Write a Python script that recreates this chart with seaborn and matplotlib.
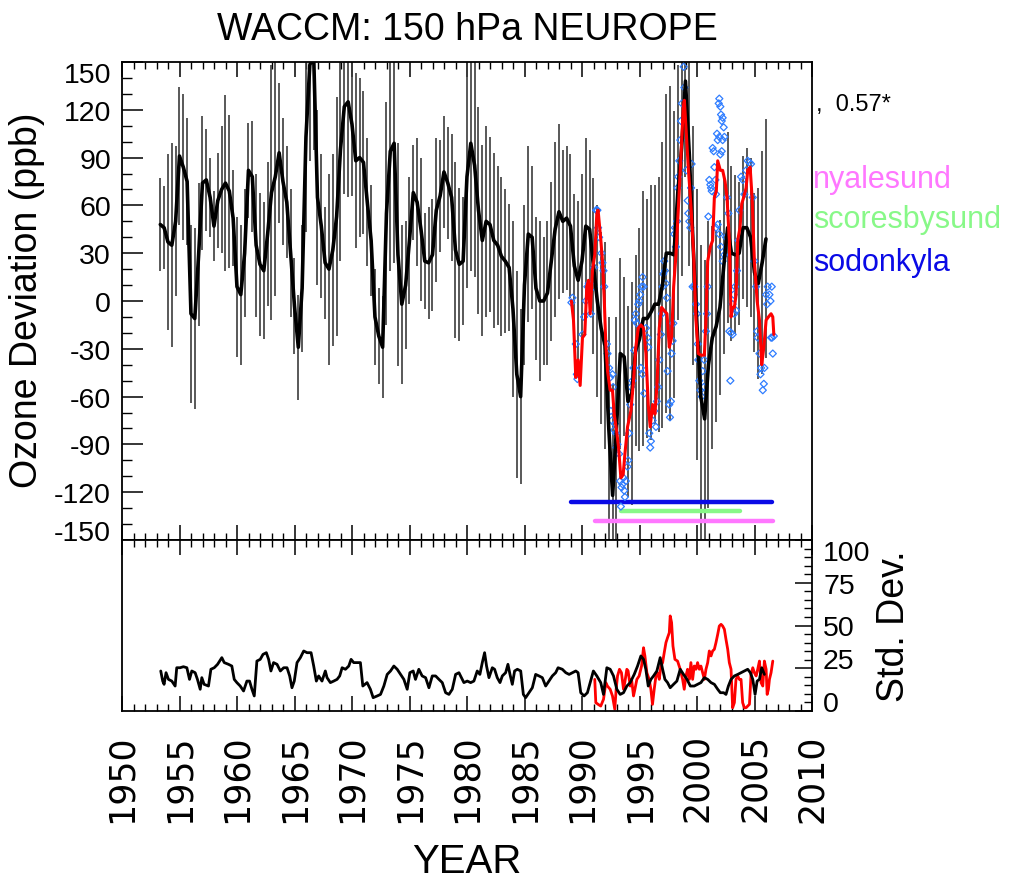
import numpy as np
import pandas as pd
import matplotlib
matplotlib.use("Agg")
import matplotlib.pyplot as plt
import seaborn as sns
from matplotlib.ticker import MultipleLocator
from matplotlib import font_manager as fm

# ---------------- data ----------------
# WACCM model ozone deviation (ppb), 4-monthly samples starting 1953.33
model_start = 1953.33
model_step = 1.0 / 3.0
model_vals = [
    48, 46, 37, 35, 50, 91, 84, 75, -8, -11,
    29, 74, 76, 65, 47, 63, 70, 74, 69, 52,
    9, 4, 30, 82, 78, 35, 23, 19, 42, 68,
    78, 93, 75, 62, 30, -3, -29, 8, 103, 148,
    155, 65, 47, 24, 20, 32, 53, 95, 122, 125,
    111, 88, 90, 87, 62, 38, -10, -22, -29, 55,
    94, 99, 29, -2, 10, 38, 68, 62, 45, 25,
    24, 29, 57, 66, 81, 74, 65, 32, 23, 25,
    78, 99, 85, 57, 38, 50, 48, 38, 35, 28,
    25, 21, -5, -46, -60, 10, 42, 40, 8, 0,
    0, 5, 25, 45, 56, 50, 52, 47, 22, 13,
    25, 47, 45, 22, 0, -17, -28, -80, -122, -80,
    -33, -35, -63, -58, -31, -24, -11, -11, -7, -2,
    -2, 10, 30, 30, 29, 68, 96, 138, 92, 35,
    -15, -60, -74, -40, -23, -16, -4, 22, 46, 30,
    29, 30, 46, 46, 40, 18, 11, 24, 39,
]
# half length of the model spread bars (ppb)
model_err = [
    29, 26, 55, 64, 47, 43, 46, 40, 56, 57,
    45, 42, 32, 25, 22, 30, 40, 55, 48, 30,
    44, 44, 40, 30, 35, 45, 45, 43, 45, 80,
    75, 44, 40, 35, 40, 30, 33, 40, 60, 60,
    60, 55, 45, 35, 60, 60, 75, 70, 55, 60,
    45, 55, 50, 45, 40, 35, 30, 30, 32, 70,
    75, 75, 70, 50, 40, 40, 30, 40, 45, 30,
    35, 35, 45, 35, 35, 35, 40, 55, 48, 40,
    70, 80, 70, 65, 60, 60, 55, 55, 50, 50,
    45, 40, 55, 65, 55, 50, 55, 45, 45, 50,
    40, 45, 50, 55, 55, 45, 45, 45, 45, 50,
    55, 55, 50, 55, 60, 60, 65, 70, 70, 70,
    60, 50, 60, 70, 60, 70, 80, 75, 80, 75,
    80, 90, 100, 105, 90, 80, 80, 60, 70, 75,
    85, 95, 100, 90, 70, 60, 55, 55, 60, 55,
    50, 45, 45, 50, 50, 50, 60, 70, 75,
]

# observed (sonde) smoothed deviation
obs_years = [1989.08, 1989.26, 1989.46, 1989.66, 1989.84, 1990.04, 1990.24, 1990.42, 1990.56, 1990.71,
             1990.91, 1991.11, 1991.29, 1991.40, 1991.64, 1991.78, 1991.93, 1992.07, 1992.22, 1992.45,
             1992.65, 1992.80, 1993.00, 1993.18, 1993.38, 1993.58, 1993.73, 1993.96, 1994.25, 1994.48,
             1994.68, 1994.89, 1995.12, 1995.35, 1995.56, 1995.76, 1995.93, 1996.14, 1996.34, 1996.51,
             1996.72, 1996.92, 1997.15, 1997.39, 1997.59, 1997.79, 1997.97, 1998.17, 1998.37, 1998.60,
             1998.81, 1998.90, 1999.04, 1999.24, 1999.48, 1999.71, 1999.91, 2000.11, 2000.35, 2000.64,
             2000.78, 2000.93, 2001.16, 2001.36, 2001.51, 2001.68, 2001.80, 2002.03, 2002.23, 2002.44,
             2002.61, 2002.81, 2002.96, 2003.10, 2003.25, 2003.40, 2003.54, 2003.74, 2003.89, 2004.06,
             2004.27, 2004.41, 2004.62, 2004.79, 2004.99, 2005.23, 2005.43, 2005.63, 2005.81, 2006.01,
             2006.21, 2006.44, 2006.59, 2006.68]
obs_vals = [0, -12, -48, -37, -53, -23, -21, 9, 13, -8,
            19, 29, 55, 57, 38, 25, 2, -27, -44, -56,
            -56, -71, -81, -92, -111, -109, -96, -79, -69, -50,
            -29, -17, -15, -17, -33, -65, -79, -65, -71, -54,
            -17, -4, -6, -8, -29, -23, 9, 29, 57, 90,
            122, 126, 109, 84, 59, 29, -12, -33, -34, -34,
            -12, 25, 34, 38, 65, 69, 88, 82, 82, 75,
            65, 38, -10, -4, -4, 4, 38, 46, 61, 65,
            71, 82, 84, 65, 25, 0, -12, -40, -29, -12,
            -10, -8, -10, -21]

# individual sonde profiles
sonde_years = [1989.08, 1989.17, 1989.46, 1989.60, 1989.55, 1990.04, 1990.18, 1990.33, 1990.47, 1990.59,
               1990.77, 1991.00, 1991.06, 1991.23, 1991.29, 1991.34, 1991.40, 1991.49, 1991.69, 1991.78,
               1991.87, 1991.93, 1992.16, 1992.22, 1992.36, 1992.45, 1992.51, 1992.59, 1992.65, 1992.71,
               1992.80, 1992.86, 1992.94, 1993.00, 1993.09, 1993.23, 1993.32, 1993.44, 1993.52, 1993.61,
               1993.67, 1993.73, 1993.81, 1993.38, 1993.96, 1994.02, 1994.10, 1994.19, 1994.25, 1994.39,
               1994.48, 1994.54, 1994.60, 1994.68, 1994.77, 1994.89, 1994.98, 1995.06, 1995.18, 1995.27,
               1995.35, 1995.41, 1995.27, 1995.12, 1995.56, 1995.70, 1995.76, 1995.85, 1995.93, 1995.99,
               1996.14, 1996.28, 1996.43, 1996.51, 1996.63, 1996.72, 1996.86, 1996.95, 1997.01, 1997.07,
               1997.15, 1997.21, 1997.30, 1997.39, 1997.44, 1997.59, 1997.65, 1997.73, 1997.79, 1997.88,
               1997.94, 1998.02, 1998.08, 1998.17, 1998.26, 1998.31, 1998.37, 1998.46, 1998.55, 1998.60,
               1998.69, 1998.84, 1998.90, 1998.98, 1999.07, 1999.19, 1999.24, 1999.33, 1999.42, 1999.48,
               1999.53, 1999.62, 1999.77, 1999.91, 2000.00, 2000.06, 2000.11, 2000.20, 2000.29, 2000.41,
               2000.49, 2000.58, 2000.64, 2000.78, 2000.87, 2000.93, 2000.99, 2001.07, 2001.16, 2001.22,
               2001.28, 2001.36, 2001.45, 2001.51, 2001.60, 2001.65, 2001.74, 2001.80, 2001.89, 2001.94,
               2002.03, 2002.09, 2002.15, 2002.23, 2002.32, 2002.38, 2002.23, 2002.15, 2002.03, 2001.94,
               2001.65, 2001.80, 2001.94, 2002.09, 2002.23, 2002.38, 2002.52, 2002.61, 2002.73, 2002.81,
               2002.96, 2003.10, 2003.25, 2003.40, 2002.90, 2003.10, 2003.19, 2003.31, 2003.48, 2003.60,
               2003.69, 2003.83, 2003.98, 2004.12, 2004.27, 2004.41, 2004.56, 2004.70, 2004.85, 2004.99,
               2005.14, 2005.23, 2005.28, 2005.43, 2005.52, 2005.57, 2005.72, 2005.81, 2005.86, 2006.01,
               2006.10, 2006.15, 2006.30, 2006.39, 2006.50, 2006.44, 2006.53, 2006.59, 2006.68]
sonde_vals = [-1, 2, -27, -49, -46, -21, -10, 0, 9, 11,
              -8, 9, 21, 57, 57, 57, 46, 40, 30, 24,
              19, 9, -27, -33, -42, -48, -69, -75, -46, -54,
              -81, -77, -83, -92, -90, -96, -113, -117, -115, -111,
              -119, -123, -113, -129, -104, -100, -83, -65, -54, -50,
              -42, -31, -12, -8, -14, -2, 0, 4, 9, 15,
              9, -58, -46, -42, -17, -23, -29, -83, -92, -88,
              -75, -69, -79, -63, -54, -37, -21, -8, 9, 17,
              25, 19, 11, 2, -44, -65, -73, -63, -33, -25,
              -14, 42, 46, 34, 50, 71, 78, 88, 101, 113,
              124, 147, 134, 113, 82, 63, 55, 50, 46, 71,
              86, 9, 9, -2, -8, -27, -37, -50, -56, -60,
              -44, -54, -37, -19, -8, 9, 53, 76, 73, 71,
              69, 96, 94, 84, 76, 67, 105, 101, 124, 127,
              122, 117, 113, 115, 109, 103, 101, 94, 92, 103,
              46, 48, 42, 34, 25, 29, 40, 65, 55, -19,
              -20, -21, -8, -6, -50, -2, 4, 9, 19, 38,
              57, 78, 76, 67, 82, 88, 87, 86, 65, 25,
              9, -19, -23, -33, -46, -42, -56, -52, -42, 4,
              -2, 9, 4, 0, 9, -23, -23, -33, -22]

# station record periods (years)
stations = ["nyalesund", "scoresbysund", "sodonkyla"]
station_start = [1991.1, 1993.4, 1989.0]
station_end = [2006.6, 2003.7, 2006.5]

# running standard deviation (ppb)
model_sd_years = [1953.37, 1953.54, 1953.66, 1953.83, 1954.04, 1954.33, 1954.62, 1954.76, 1955.05, 1955.34,
                  1955.64, 1955.87, 1956.07, 1956.36, 1956.56, 1956.80, 1956.94, 1957.14, 1957.52, 1957.73,
                  1958.02, 1958.31, 1958.68, 1958.89, 1959.26, 1959.55, 1959.76, 1959.99, 1960.28, 1960.57,
                  1960.86, 1961.09, 1961.30, 1961.50, 1961.73, 1962.02, 1962.26, 1962.55, 1962.75, 1962.95,
                  1963.18, 1963.48, 1963.77, 1964.06, 1964.35, 1964.58, 1964.78, 1964.98, 1965.22, 1965.51,
                  1965.80, 1966.09, 1966.44, 1966.67, 1966.90, 1967.10, 1967.39, 1967.68, 1967.83, 1968.12,
                  1968.41, 1968.70, 1968.93, 1969.14, 1969.43, 1969.72, 1969.92, 1970.15, 1970.44, 1970.73,
                  1970.94, 1971.31, 1971.60, 1971.84, 1972.19, 1972.48, 1972.77, 1973.06, 1973.35, 1973.64,
                  1973.93, 1974.22, 1974.51, 1974.80, 1975.03, 1975.32, 1975.52, 1975.81, 1976.10, 1976.40,
                  1976.69, 1976.98, 1977.27, 1977.56, 1977.85, 1978.14, 1978.43, 1978.72, 1979.01, 1979.30,
                  1979.59, 1979.73, 1980.02, 1980.32, 1980.60, 1980.89, 1981.12, 1981.33, 1981.53, 1981.70,
                  1981.91, 1982.20, 1982.40, 1982.63, 1982.87, 1983.07, 1983.36, 1983.56, 1983.74, 1983.94,
                  1984.14, 1984.38, 1984.67, 1984.90, 1985.10, 1985.39, 1985.68, 1985.97, 1986.26, 1986.55,
                  1986.84, 1987.13, 1987.42, 1987.71, 1987.92, 1988.29, 1988.59, 1988.88, 1989.17, 1989.46,
                  1989.66, 1989.89, 1990.18, 1990.47, 1990.71, 1990.99, 1991.29, 1991.63, 1991.87, 1992.16,
                  1992.45, 1992.74, 1993.03, 1993.32, 1993.61, 1993.90, 1994.19, 1994.54, 1994.83, 1995.12,
                  1995.35, 1995.55, 1995.76, 1995.99, 1996.22, 1996.51, 1996.80, 1997.01, 1997.21, 1997.44,
                  1997.67, 1997.96, 1998.25, 1998.54, 1998.83, 1999.13, 1999.42, 1999.76, 2000.05, 2000.34,
                  2000.64, 2000.93, 2001.22, 2001.51, 2001.80, 2002.03, 2002.32, 2002.52, 2002.73, 2002.96,
                  2003.25, 2003.54, 2003.83, 2004.12, 2004.41, 2004.64, 2004.85, 2005.05, 2005.23, 2005.43,
                  2005.63, 2005.86]
model_sd = [23.4, 17.5, 15.6, 22.4, 18.5, 17.5, 14.6, 25.3, 25.3, 25.9,
            25.3, 18.5, 23.4, 22.4, 18.5, 12.7, 19.5, 15.6, 14.6, 24.4,
            25.3, 27.3, 31.2, 28.3, 27.3, 26.3, 18.5, 16.6, 14.6, 11.7,
            17.5, 17.5, 12.7, 8.8, 29.2, 30.2, 33.1, 34.1, 30.2, 23.4,
            28.3, 27.3, 23.4, 25.3, 25.3, 20.5, 13.6, 17.5, 28.3, 31.2,
            35.1, 34.1, 34.1, 26.3, 17.5, 20.5, 17.5, 23.4, 19.5, 16.6,
            17.5, 18.5, 20.5, 25.3, 24.4, 26.3, 30.2, 28.3, 28.3, 28.3,
            14.6, 16.6, 12.7, 7.8, 8.8, 9.7, 14.6, 21.4, 23.4, 26.3,
            24.4, 21.4, 18.5, 12.7, 22.4, 23.4, 18.5, 24.4, 20.5, 19.5,
            13.6, 20.5, 20.5, 18.5, 16.6, 10.7, 9.7, 12.7, 21.4, 22.4,
            18.5, 16.6, 17.5, 16.6, 17.5, 23.4, 21.4, 28.3, 34.1, 26.3,
            19.5, 25.3, 24.4, 19.5, 16.6, 20.5, 22.4, 27.3, 21.4, 15.6,
            23.4, 24.4, 23.4, 9.7, 7.8, 10.7, 13.6, 21.4, 20.5, 19.5,
            14.6, 17.5, 20.5, 22.4, 25.3, 24.4, 22.4, 21.4, 22.4, 23.4,
            22.4, 10.7, 8.8, 10.7, 16.6, 23.4, 20.5, 16.6, 9.7, 25.3,
            24.4, 20.5, 12.7, 9.7, 10.7, 14.6, 16.6, 21.4, 26.3, 32.2,
            30.2, 24.4, 14.6, 18.5, 20.5, 23.4, 31.2, 24.4, 18.5, 16.6,
            13.6, 15.6, 17.5, 24.4, 21.4, 18.5, 14.6, 14.6, 15.6, 16.6,
            19.5, 18.5, 16.6, 15.6, 12.7, 10.7, 10.7, 9.7, 14.6, 18.5,
            20.5, 21.4, 22.4, 23.4, 24.4, 22.4, 18.5, 9.7, 17.5, 18.5,
            25.3, 21.4]

obs_sd_years = [1991.11, 1991.20, 1991.40, 1991.63, 1991.87, 1992.07, 1992.21, 1992.45, 1992.65, 1992.85,
                1992.97, 1993.09, 1993.26, 1993.43, 1993.61, 1993.72, 1993.90, 1994.01, 1994.19, 1994.31,
                1994.48, 1994.60, 1994.77, 1994.97, 1995.18, 1995.35, 1995.47, 1995.64, 1995.84, 1995.99,
                1996.13, 1996.28, 1996.43, 1996.57, 1996.72, 1996.86, 1997.01, 1997.15, 1997.30, 1997.44,
                1997.59, 1997.67, 1997.79, 1997.91, 1998.08, 1998.31, 1998.54, 1998.75, 1998.89, 1999.04,
                1999.18, 1999.33, 1999.47, 1999.62, 1999.76, 1999.91, 2000.05, 2000.20, 2000.34, 2000.49,
                2000.64, 2000.78, 2000.93, 2001.07, 2001.22, 2001.36, 2001.51, 2001.65, 2001.80, 2001.94,
                2002.09, 2002.23, 2002.38, 2002.52, 2002.67, 2002.81, 2002.96, 2003.10, 2003.25, 2003.39,
                2003.54, 2003.68, 2003.83, 2003.97, 2004.12, 2004.27, 2004.41, 2004.56, 2004.70, 2004.85,
                2004.99, 2005.14, 2005.28, 2005.43, 2005.57, 2005.72, 2005.86, 2006.01, 2006.10, 2006.21,
                2006.30, 2006.44, 2006.59]
obs_sd = [18.5, 4.9, 3.9, 2.9, 6.8, 16.6, 14.6, 12.7, 8.8, 1.0,
          12.7, 20.5, 24.4, 22.4, 12.7, 16.6, 24.4, 23.4, 14.6, 18.5,
          8.8, 12.7, 18.5, 20.5, 26.3, 37.0, 32.2, 22.4, 18.5, 12.7,
          3.9, 12.7, 20.5, 22.4, 18.5, 26.3, 28.3, 34.1, 40.0, 42.9,
          45.8, 55.6, 51.7, 38.0, 30.2, 29.2, 24.4, 18.5, 12.7, 20.5,
          24.4, 18.5, 28.3, 18.5, 26.3, 24.4, 28.3, 24.4, 26.3, 22.4,
          18.5, 24.4, 28.3, 35.1, 32.2, 35.1, 36.1, 40.0, 44.8, 49.7,
          50.7, 49.7, 47.8, 41.9, 36.1, 28.3, 24.4, 1.9, 4.9, 18.5,
          20.5, 18.5, 18.5, 4.9, 1.9, 1.9, 2.9, 3.9, 21.4, 25.3,
          22.4, 20.5, 24.4, 29.2, 16.6, 14.6, 29.2, 24.4, 9.7, 12.7,
          18.5, 22.4, 29.2]

corr_text = ",  0.57*"
title = "WACCM: 150 hPa NEUROPE"
ylabel_top = "Ozone Deviation (ppb)"
ylabel_bot = "Std. Dev."
xlabel = "YEAR"

# ---------------- style ----------------
def has_font(name):
    try:
        fm.findfont(fm.FontProperties(family=name), fallback_to_default=False)
        return True
    except Exception:
        return False

NARROW = "Liberation Sans Narrow" if has_font("Liberation Sans Narrow") else "Liberation Sans"
REG = "Liberation Sans"

sns.set_style("ticks")
plt.rcParams["font.family"] = [NARROW, "DejaVu Sans"]
for key in ("text.color", "axes.labelcolor", "xtick.color", "ytick.color", "axes.edgecolor"):
    plt.rcParams[key] = "black"

station_colors = {"nyalesund": "#ff77ff", "scoresbysund": "#88f888", "sodonkyla": "#0a0ae6"}

fig = plt.figure(figsize=(10.11, 8.87), dpi=100)
W, H = 1011.0, 887.0
ax1 = fig.add_axes([122 / W, 1 - 541 / H, 690 / W, 478 / H])
ax2 = fig.add_axes([122 / W, 1 - 712 / H, 690 / W, 171 / H], sharex=ax1)

model_years = model_start + np.arange(len(model_vals)) * model_step
mv = np.array(model_vals, dtype=float)
me = np.array(model_err, dtype=float)
model_df = pd.DataFrame({"year": model_years, "dev": mv})

# spread bars
ax1.vlines(model_years, mv - me, mv + me, color="#3c3c3c", lw=1.2, zorder=1)

# station periods
levels = {"sodonkyla": -126, "scoresbysund": -132, "nyalesund": -138}
for name, s0, s1 in zip(stations, station_start, station_end):
    sdf = pd.DataFrame({"year": [s0, s1], "dev": [levels[name], levels[name]]})
    sns.lineplot(data=sdf, x="year", y="dev", ax=ax1, color=station_colors[name],
                 lw=3.2, estimator=None, sort=False, zorder=2)

sonde_df = pd.DataFrame({"year": sonde_years, "dev": sonde_vals})
sns.scatterplot(data=sonde_df, x="year", y="dev", ax=ax1, marker="D", s=13,
                facecolors="none", edgecolor="#2f7dff", linewidth=0.9, zorder=3)

sns.lineplot(data=model_df, x="year", y="dev", ax=ax1, color="black", lw=2.6,
             estimator=None, sort=False, zorder=4)
obs_df = pd.DataFrame({"year": obs_years, "dev": obs_vals})
sns.lineplot(data=obs_df, x="year", y="dev", ax=ax1, color="#ff0000", lw=2.2,
             estimator=None, sort=False, zorder=5)

ax1.set_xlim(1950, 2010)
ax1.set_ylim(-150, 150)
ax1.set_xlabel("")
ax1.set_ylabel("")
ax1.xaxis.set_major_locator(MultipleLocator(5))
ax1.xaxis.set_minor_locator(MultipleLocator(1))
ax1.yaxis.set_major_locator(MultipleLocator(30))
ax1.yaxis.set_minor_locator(MultipleLocator(10))
ax1.tick_params(axis="both", which="both", direction="in", top=True, bottom=True,
                left=True, right=False, labelbottom=False, colors="black")
ax1.tick_params(axis="x", which="major", length=11, width=1.1)
ax1.tick_params(axis="x", which="minor", length=5, width=1.0)
ax1.tick_params(axis="y", which="major", length=15, width=1.1, labelsize=20.5, pad=8)
ax1.tick_params(axis="y", which="minor", length=7, width=1.0)
yt = list(range(-150, 151, 30))
ax1.set_yticks(yt)
ax1.set_yticklabels([str(v) for v in yt])
for lab in ax1.get_yticklabels():
    if lab.get_text() == "150":
        lab.set_va("top")
    elif lab.get_text() == "-150":
        lab.set_va("baseline")

# bottom panel
msd = pd.DataFrame({"year": model_sd_years, "sd": model_sd})
osd = pd.DataFrame({"year": obs_sd_years, "sd": obs_sd})
sns.lineplot(data=osd, x="year", y="sd", ax=ax2, color="#ff0000", lw=2.0,
             estimator=None, sort=False, zorder=2)
sns.lineplot(data=msd, x="year", y="sd", ax=ax2, color="black", lw=2.0,
             estimator=None, sort=False, zorder=3)
ax2.set_ylim(0, 100)
ax2.set_xlim(1950, 2010)
ax2.yaxis.tick_right()
ax2.yaxis.set_label_position("right")
ax2.yaxis.set_major_locator(MultipleLocator(25))
ax2.yaxis.set_minor_locator(MultipleLocator(5))
ax2.tick_params(axis="y", which="both", direction="in", left=False, right=True,
                labelleft=False, labelright=True, colors="black")
ax2.tick_params(axis="y", which="major", length=12, width=1.1, labelsize=20.5, pad=8)
ax2.tick_params(axis="y", which="minor", length=6, width=1.0)
ax2.tick_params(axis="x", which="both", direction="in", top=True, bottom=True, colors="black")
ax2.tick_params(axis="x", which="major", length=11, width=1.1, pad=16)
ax2.tick_params(axis="x", which="minor", length=5, width=1.0)
ax2.set_yticks([0, 25, 50, 75, 100])
ax2.set_yticklabels(["0", "25", "50", "75", "100"])
for lab in ax2.get_yticklabels():
    t = lab.get_text()
    if t == "100":
        lab.set_va("top")
    elif t in ("0", "25"):
        lab.set_va("baseline")
xt = list(range(1950, 2011, 5))
ax2.set_xticks(xt)
ax2.set_xticklabels([str(v) for v in xt], rotation=90, fontsize=25, family="DejaVu Sans")
ax2.set_xlabel("")
ax2.set_ylabel(ylabel_bot, fontsize=27, rotation=90, labelpad=4, color="black")

for ax in (ax1, ax2):
    for sp in ax.spines.values():
        sp.set_visible(True)
        sp.set_linewidth(1.3)
        sp.set_color("black")

# texts
fig.text(467 / W, 1 - 30 / H, title, ha="center", va="center", fontsize=27, color="black")
fig.text(467 / W, 1 - 862 / H, xlabel, ha="center", va="center", fontsize=29, color="black")
fig.text(27 / W, 1 - 300 / H, ylabel_top, ha="center", va="center", rotation=90,
         fontsize=27, family=[REG, "DejaVu Sans"], color="black")
fig.text(816 / W, 1 - 105 / H, corr_text, ha="left", va="center", fontsize=17, color="black")
label_y = {"nyalesund": 180, "scoresbysund": 220, "sodonkyla": 263}
for name in stations:
    fig.text(813 / W, 1 - label_y[name] / H, name, ha="left", va="center",
             fontsize=22, color=station_colors[name])

fig.savefig("out.png", dpi=100)
